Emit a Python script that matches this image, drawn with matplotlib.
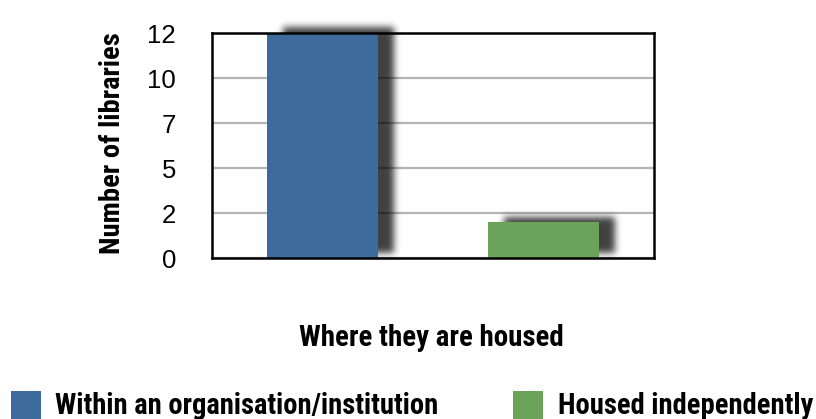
import numpy as np
import matplotlib
matplotlib.use("Agg")
import matplotlib.pyplot as plt
from matplotlib.patches import Rectangle
from matplotlib import font_manager

categories = ["Within an organisation/institution", "Housed independently"]
values = [12, 1.9]
colors = ["#3d6b9c", "#6aa359"]
y_ticks = [0, 2.4, 4.8, 7.2, 9.6, 12]
y_tick_labels = ["0", "2", "5", "7", "10", "12"]
x_title = "Where they are housed"
y_title = "Number of libraries"

names = {f.name for f in font_manager.fontManager.ttflist}
cond = "Roboto"
for cand in ["Roboto Condensed", "Liberation Sans Narrow", "Open Sans Condensed",
             "DejaVu Sans Condensed", "Roboto", "Liberation Sans"]:
    if cand in names:
        cond = cand
        break
reg = "Liberation Sans"

W, H = 816, 419
fig = plt.figure(figsize=(W / 100, H / 100), dpi=100)
ax = fig.add_axes([212 / W, 1 - 258 / H, (654 - 212) / W, (258 - 33) / H])
ax.set_xlim(-0.5, 1.5)
ax.set_ylim(0, 12)
ax.set_autoscale_on(False)

x = np.arange(len(categories))
bw = 0.5
ax.bar(x, values, width=bw, color=colors, zorder=3)

# blurred drop shadow
mask = np.zeros((H, W))
for xi, v in zip(x, values):
    (x0, y0) = ax.transData.transform((xi - bw / 2, 0))
    (x1, y1) = ax.transData.transform((xi + bw / 2, v))
    dx, dy = 16, 5
    mask[int(round(y0 + dy)):int(round(y1 + dy)), int(round(x0 + dx)):int(round(x1 + dx))] = 1.0
sig = 3.5
k = np.arange(-12, 13)
g = np.exp(-k ** 2 / (2 * sig ** 2))
g /= g.sum()
mask = np.apply_along_axis(lambda r: np.convolve(r, g, mode="same"), 1, mask)
mask = np.apply_along_axis(lambda c: np.convolve(c, g, mode="same"), 0, mask)
rgba = np.zeros((H, W, 4))
rgba[..., 3] = mask * 0.75
ax.imshow(rgba, extent=(0, 1, 0, 1), transform=fig.transFigure, origin="lower",
          aspect="auto", zorder=2, clip_on=False, interpolation="nearest")
ax.set_xlim(-0.5, 1.5)
ax.set_ylim(0, 12)

ax.set_yticks(y_ticks)
ax.set_yticklabels(y_tick_labels, fontfamily=reg, fontsize=18.5)
ax.set_xticks([])
ax.tick_params(axis="y", length=0, pad=26)
ax.yaxis.grid(True, color="#b4b4b4", linewidth=1.6, zorder=1)
ax.set_axisbelow(True)
for s in ax.spines.values():
    s.set_linewidth(1.8)
    s.set_color("black")
    s.set_zorder(4)

ylab = fig.text(113 / W, 1 - 143 / H, y_title, rotation=90, ha="center", va="center",
                fontfamily=cond, fontweight="bold", fontsize=18)
xlab = fig.text(431 / W, 1 - 338 / H, x_title, ha="center", va="center",
                fontfamily=cond, fontweight="bold", fontsize=18)

# legend
leg_sq = [11, 513]
leg_tx = [55, 558]
leg_texts = []
for sx, tx, c, lab in zip(leg_sq, leg_tx, colors, categories):
    fig.patches.append(Rectangle((sx / W, 0), 30 / W, 28 / H, transform=fig.transFigure,
                                 facecolor=c, edgecolor="none"))
    t = fig.text(tx / W, 1 - 406 / H, lab, ha="left", va="center",
                 fontfamily=cond, fontweight="bold", fontsize=18)
    leg_texts.append(t)

# size texts to the extents they have in the reference
fig.canvas.draw()
r = fig.canvas.get_renderer()
bb = ylab.get_window_extent(r)
ylab.set_fontsize(ylab.get_fontsize() * 221 / bb.height)
bb = xlab.get_window_extent(r)
xlab.set_fontsize(xlab.get_fontsize() * 265 / bb.width)
bb0 = leg_texts[0].get_window_extent(r)
bb1 = leg_texts[1].get_window_extent(r)
s = leg_texts[0].get_fontsize() * min(390 / bb0.width, 254 / bb1.width)
for t in leg_texts:
    t.set_fontsize(s)

fig.savefig("out.png", dpi=100)
